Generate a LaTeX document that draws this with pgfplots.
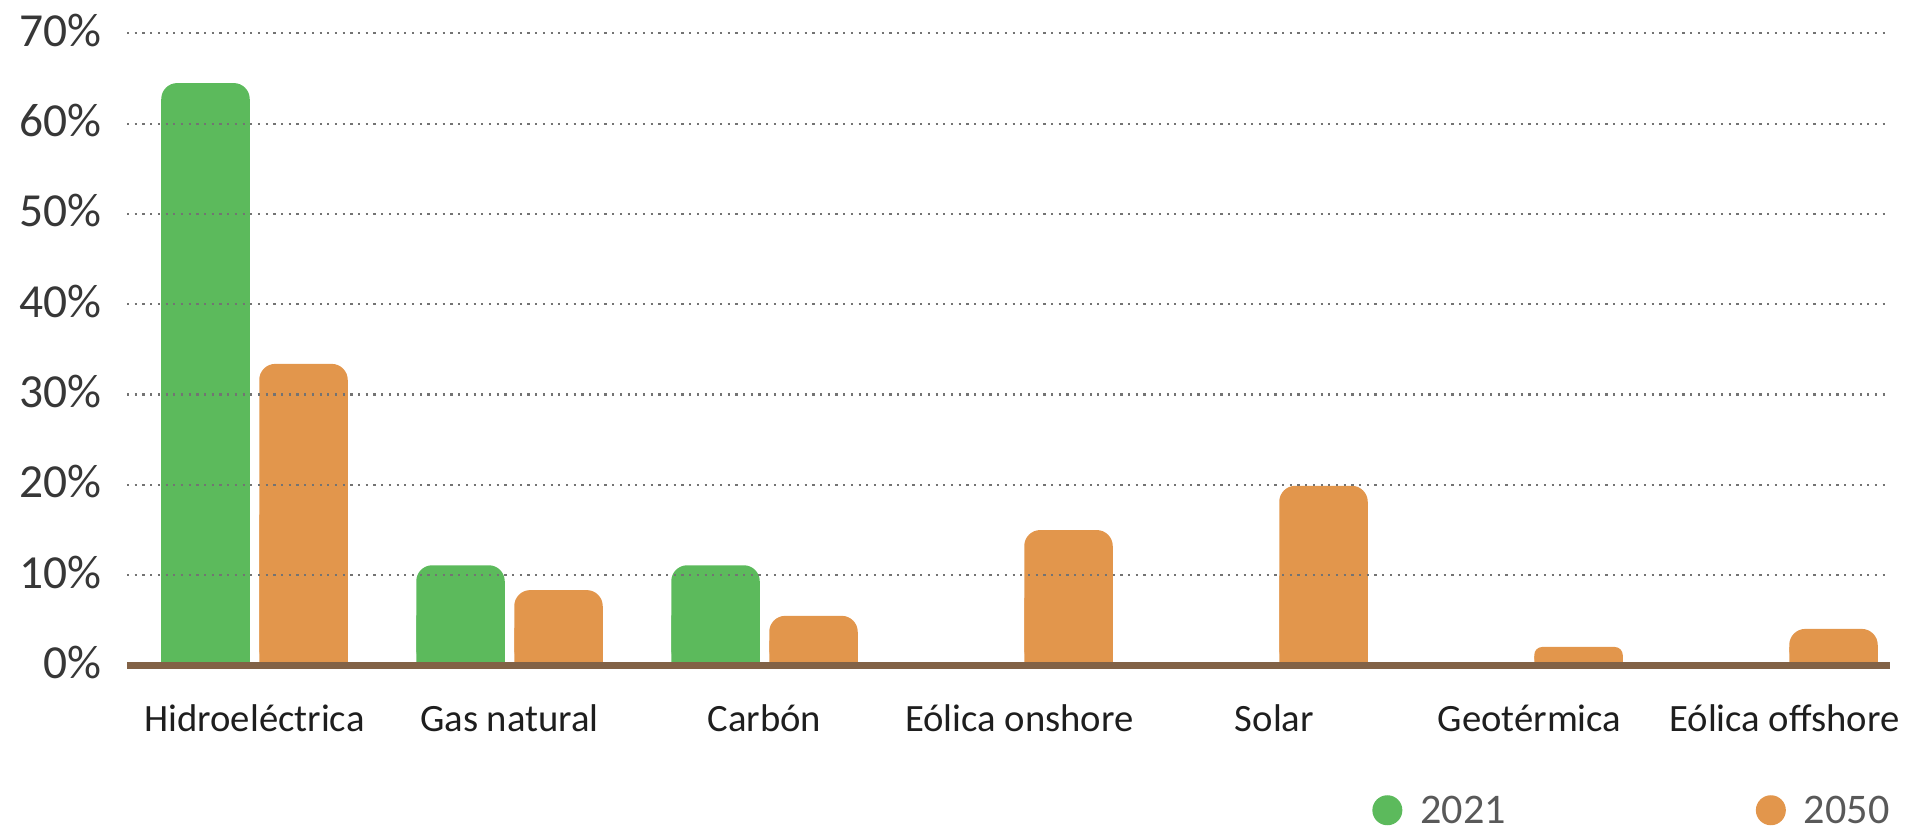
\documentclass[border=0pt]{standalone}
\usepackage{pgfplots}
\pgfplotsset{compat=1.18}
\usepackage{pgfplotstable}
\usepackage{fontspec}
\setmainfont{Carlito}
\definecolor{g21}{RGB}{92,186,92}
\definecolor{o50}{RGB}{226,150,76}
\definecolor{basec}{RGB}{130,98,70}
\definecolor{gridc}{RGB}{115,115,115}
\definecolor{tickc}{RGB}{55,55,55}
\definecolor{labc}{RGB}{30,30,30}
\definecolor{legc}{RGB}{89,89,89}

\pgfplotstableread{
x h21 h50
0 64.5 33.4
1 11.1 8.35
2 11.1 5.5
3 0 15.0
4 0 19.9
5 0 2.05
6 0 4.05
}\data

\begin{document}
\begin{tikzpicture}
\begin{axis}[
  at={(0,0)}, anchor=south west,
  x=25.5mm, y=0.903mm,
  xmin=-0.5, xmax=6.414,
  ymin=0, ymax=70,
  ybar,
  axis on top,
  axis x line=bottom,
  axis y line=left,
  x axis line style={draw=basec, line width=0.7mm, -},
  y axis line style={draw=none},
  major tick length=0pt,
  tick style={draw=none},
  xtick={0,1,2,3,4,5,6},
  xticklabels={Hidroeléctrica, Gas natural, Carbón, Eólica onshore, Solar, Geotérmica, Eólica offshore},
  xticklabel style={anchor=base, inner sep=0pt, yshift=-6.65mm, font=\fontsize{11}{13}\selectfont, text=labc},
  ytick={0,10,...,70},
  yticklabel={\pgfmathprintnumber{\tick}\%},
  yticklabel style={anchor=east, inner sep=0pt, xshift=-2.5mm, yshift=0.3mm, font=\fontsize{13.5}{16}\selectfont, text=tickc},
  /pgf/number format/assume math mode=true,
  ymajorgrids,
  grid style={draw=gridc, line width=0.22mm, dash pattern=on 0.22mm off 0.55mm},
  bar width=8.85mm,
  unbounded coords=discard,
  legend columns=2,
  legend style={
    draw=none, fill=none, inner sep=0pt,
    at={(1.0,-0.229)}, anchor=east,
    nodes={inner sep=0pt, text depth=0pt},
    font=\fontsize{12}{14}\selectfont, text=legc,
    /tikz/every odd column/.append style={column sep=1.8mm},
    /tikz/every even column/.append style={column sep=25mm},
  },
]
% bottom halves (square) so that only the top corners are rounded
\addplot[fill=g21, draw=none, bar shift=-4.9mm, forget plot,
  y filter/.expression={y==0 ? nan : y}] table[x=x, y expr=\thisrow{h21}*0.5] {\data};
\addplot[fill=o50, draw=none, bar shift=4.9mm, forget plot,
  y filter/.expression={y==0 ? nan : y}] table[x=x, y expr=\thisrow{h50}*0.5] {\data};
% full bars with rounded corners
\addplot[fill=g21, draw=none, bar shift=-4.9mm, rounded corners=1.6mm,
  y filter/.expression={y==0 ? nan : y},
  legend image code/.code={\path[fill=g21] (1.5mm,0) circle[radius=1.5mm];}] table[x=x, y=h21] {\data};
\addplot[fill=o50, draw=none, bar shift=4.9mm, rounded corners=1.6mm,
  y filter/.expression={y<3 ? nan : y},
  legend image code/.code={\path[fill=o50] (1.5mm,0) circle[radius=1.5mm];}] table[x=x, y=h50] {\data};
% short bars: smaller corner radius
\addplot[fill=o50, draw=none, bar shift=4.9mm, rounded corners=0.8mm, forget plot,
  y filter/.expression={y<3 ? y : nan}] table[x=x, y=h50] {\data};
\legend{2021, 2050}
\end{axis}
\pgfresetboundingbox
\path[use as bounding box] (-12.7mm,-16.65mm) rectangle (178.1mm,66.55mm);
\end{tikzpicture}
\end{document}
